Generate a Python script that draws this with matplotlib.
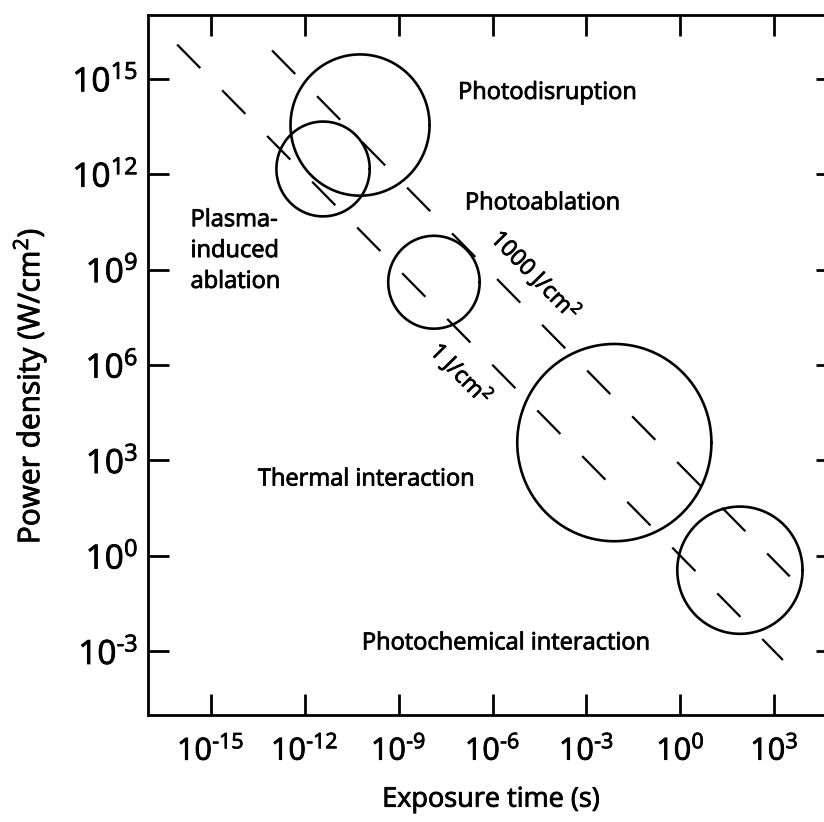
import numpy as np
import matplotlib
matplotlib.use("Agg")
import matplotlib.pyplot as plt
import matplotlib.patheffects as pe
from matplotlib.ticker import NullLocator

plt.rcParams['font.family'] = ['Open Sans', 'DejaVu Sans']
plt.rcParams['mathtext.fontset'] = 'custom'
plt.rcParams['mathtext.rm'] = 'Open Sans'
plt.rcParams['mathtext.it'] = 'Open Sans:italic'
plt.rcParams['mathtext.bf'] = 'Open Sans:bold'
plt.rcParams['lines.scale_dashes'] = False

# ---- data ----
x_tick_exponents = [-15, -12, -9, -6, -3, 0, 3]
y_tick_exponents = [15, 12, 9, 6, 3, 0, -3]

# interaction regions (circles in log-log space)
region_names = ['Photodisruption', 'Plasma-induced ablation', 'Photoablation',
                'Thermal interaction', 'Photochemical interaction']
region_time = [10**-10.23, 10**-11.41, 10**-7.87, 10**-2.11, 10**1.90]      # s
region_power = [10**13.54, 10**12.16, 10**8.60, 10**3.56, 10**-0.45]       # W/cm^2
region_radius_decades = [2.22, 1.49, 1.46, 3.10, 2.00]

# region labels
label_texts = ['Photodisruption', 'Photoablation', 'Plasma-\ninduced\nablation',
               'Thermal interaction', 'Photochemical interaction']
label_time = [10**-7.10, 10**-6.88, 10**-15.64, 10**-13.49, 10**-10.17]
label_power = [10**14.55, 10**11.08, 10**9.58, 10**2.40, 10**-2.75]

# constant-fluence lines (power density * time = fluence)
fluence_values = [1.0, 700.0]
fluence_labels = [r'1 J/cm$^{2}$', r'1000 J/cm$^{2}$']
fluence_t_start = [10**-16.07, 10**-13.04]
fluence_t_end = [10**3.27, 10**3.49]
fluence_label_time = [10**-7.00, 10**-4.62]
fluence_label_power = [10**5.72, 10**8.82]

x_limits = (1e-17, 1e5)
y_limits = (1e-5, 1e17)


def fmt_exp(e):
    if e < 0:
        return r'$\mathregular{10^{\text{-}%d}}$' % (-e)
    return r'$\mathregular{10^{%d}}$' % e


heavy = [pe.withStroke(linewidth=0.6, foreground='black')]

fig = plt.figure(figsize=(8.24, 8.22), dpi=100)
ax = fig.add_axes([0.1796, 0.1302, 0.8362, 0.8516])
ax.set_xscale('log')
ax.set_yscale('log')
ax.set_xlim(*x_limits)
ax.set_ylim(*y_limits)

# circles
theta = np.linspace(0, 2 * np.pi, 500)
for t, p, r in zip(region_time, region_power, region_radius_decades):
    lt = np.log10(t) + r * np.cos(theta)
    lp = np.log10(p) + r * np.sin(theta)
    ax.plot(10**lt, 10**lp, color='black', lw=1.9, solid_capstyle='round')

# fluence lines
for f, t0, t1 in zip(fluence_values, fluence_t_start, fluence_t_end):
    ts = np.array([t0, t1])
    ax.plot(ts, f / ts, color='black', lw=1.6, dashes=(23.8, 22.4))

# rotation along slope -1 line in display space
p1 = ax.transData.transform((1e-8, 1e8))
p2 = ax.transData.transform((1e-2, 1e2))
angle = np.degrees(np.arctan2(p2[1] - p1[1], p2[0] - p1[0]))

for lab, t, p in zip(fluence_labels, fluence_label_time, fluence_label_power):
    ax.text(t, p, lab, fontsize=16.5, rotation=angle, rotation_mode='anchor',
            ha='center', va='center', color='black', path_effects=heavy)

for lab, t, p in zip(label_texts, label_time, label_power):
    ax.text(t, p, lab, fontsize=17, ha='left', va='center', linespacing=1.38,
            color='black', path_effects=heavy)

ax.set_xticks([10.0**e for e in x_tick_exponents])
ax.set_xticklabels([fmt_exp(e) for e in x_tick_exponents])
ax.set_yticks([10.0**e for e in y_tick_exponents])
ax.set_yticklabels([fmt_exp(e) for e in y_tick_exponents])
ax.xaxis.set_minor_locator(NullLocator())
ax.yaxis.set_minor_locator(NullLocator())

ax.tick_params(which='major', direction='in', top=True, right=True,
               length=15, width=2.0, color='black')
ax.tick_params(axis='x', pad=14, labelsize=22)
ax.tick_params(axis='y', pad=7, labelsize=24)
for lbl in ax.get_xticklabels() + ax.get_yticklabels():
    lbl.set_path_effects(heavy)
for s in ax.spines.values():
    s.set_linewidth(2.0)
    s.set_color('black')

ax.set_xlabel('Exposure time (s)', fontsize=19.5, path_effects=heavy)
ax.set_ylabel(r'Power density (W/cm$^{2}$)', fontsize=21.5, path_effects=heavy)
ax.xaxis.set_label_coords(0.4985, -0.101)
ax.yaxis.set_label_coords(-0.1426, 0.47)

fig.savefig('out.png', dpi=100)
